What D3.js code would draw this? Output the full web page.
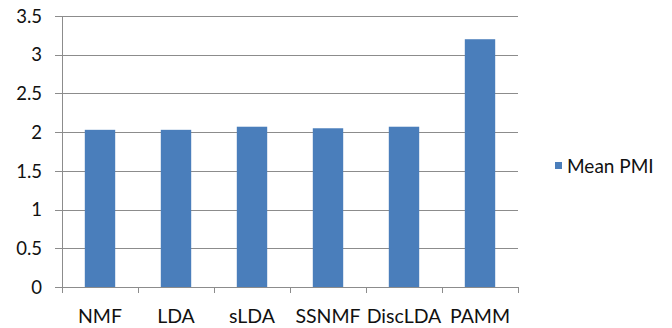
<!DOCTYPE html>
<html><head><meta charset="utf-8">
<script src="https://cdn.jsdelivr.net/npm/d3@7"></script>
<style>
html,body{margin:0;padding:0;background:#fff;}
svg{display:block;}
text{font-family:Lato,"Open Sans",sans-serif;fill:#111;}
</style></head>
<body>
<svg id="c" width="672" height="328"></svg>
<script>
const categories = ["NMF","LDA","sLDA","SSNMF","DiscLDA","PAMM"];
const meanPMI = [2.03, 2.03, 2.07, 2.05, 2.07, 3.2];
const yTicks = [0,0.5,1,1.5,2,2.5,3,3.5];
const seriesName = "Mean PMI";

const svg = d3.select("#c");
const L = 62, R = 518, T = 16, B = 287;
const x = d3.scaleBand().domain(categories).range([L,R]).paddingInner(0.6).paddingOuter(0.3);
const y = d3.scaleLinear().domain([0,3.5]).range([B,T]);
const grid = "#8c8c8c";

// gridlines + y ticks
svg.append("g").selectAll("line").data(yTicks.filter(d=>d>0)).join("line")
  .attr("x1",L-7).attr("x2",R).attr("y1",d=>Math.round(y(d))+0.5).attr("y2",d=>Math.round(y(d))+0.5)
  .attr("stroke",grid).attr("stroke-width",1);

// bars
svg.append("g").selectAll("rect").data(categories).join("rect")
  .attr("x",d=>x(d)).attr("width",x.bandwidth())
  .attr("y",(d,i)=>y(meanPMI[i])).attr("height",(d,i)=>B-y(meanPMI[i]))
  .attr("fill","#4a7ebb");

// axes lines
svg.append("line").attr("x1",L+0.5).attr("x2",L+0.5).attr("y1",T).attr("y2",B+6).attr("stroke",grid);
svg.append("line").attr("x1",L-7).attr("x2",R).attr("y1",B+0.5).attr("y2",B+0.5).attr("stroke",grid);
// x ticks at band boundaries
const bounds = categories.map(c=>x(c)-x.step()*x.paddingInner()/2).concat([R]);
svg.append("g").selectAll("line").data(bounds).join("line")
  .attr("x1",d=>Math.round(d)+0.5).attr("x2",d=>Math.round(d)+0.5).attr("y1",B).attr("y2",B+6)
  .attr("stroke",grid);

// y labels
svg.append("g").selectAll("text").data(yTicks).join("text")
  .attr("x",42).attr("y",d=>y(d)).attr("dy","0.36em").attr("text-anchor","end")
  .attr("font-size",18.5).text(d=>d);

// x labels
svg.append("g").selectAll("text").data(categories).join("text")
  .attr("x",d=>x(d)+x.bandwidth()/2).attr("y",322.5).attr("text-anchor","middle")
  .attr("font-size",19.5).text(d=>d);

// legend
svg.append("rect").attr("x",555).attr("y",162).attr("width",7).attr("height",7).attr("fill","#4a7ebb");
svg.append("text").attr("x",567).attr("y",173).attr("font-size",19).text(seriesName);
</script>
</body></html>
